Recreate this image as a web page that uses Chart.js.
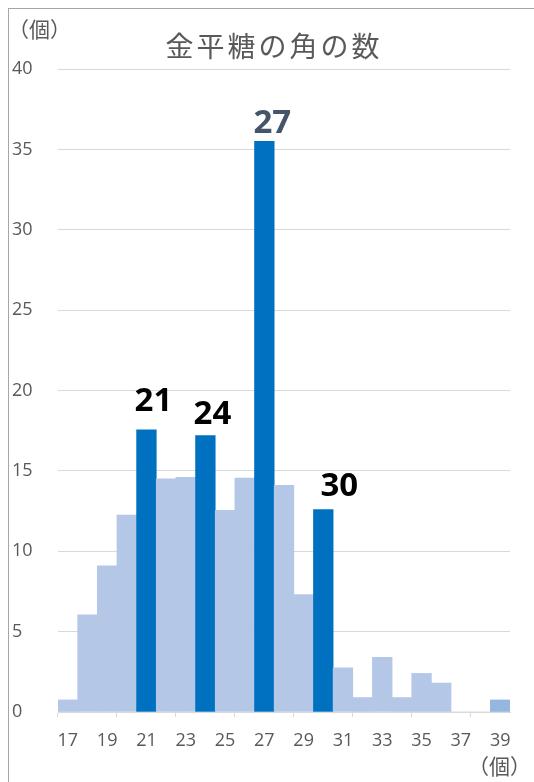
<!DOCTYPE html>
<html>
<head>
<meta charset="utf-8">
<script src="https://cdn.jsdelivr.net/npm/chart.js@4/dist/chart.umd.min.js"></script>
<style>
  body { margin: 0; background: #fff; }
  #wrap { position: relative; width: 534px; height: 782px; overflow: hidden; }
  #frame { position: absolute; left: 8px; top: 8px; right: -10px; bottom: -10px;
           border-left: 1px solid #a6a6a6; border-top: 1px solid #a6a6a6; }
  canvas { position: absolute; left: 0; top: 0; }
</style>
</head>
<body>
<div id="wrap">
  <div id="frame"></div>
  <canvas id="chart" width="534" height="782"></canvas>
</div>
<script>
// Data
const categories = ['17', '18', '19', '20', '21', '22', '23', '24', '25', '26', '27', '28',
  '29', '30', '31', '32', '33', '34', '35', '36', '37', '38', '39'];
const counts = [0.75, 6.05, 9.1, 12.25, 17.55, 14.5, 14.6, 17.2, 12.55, 14.55, 35.5, 14.1,
  7.3, 12.6, 2.75, 0.9, 3.4, 0.9, 2.4, 1.8, 0, 0, 0.75];
const highlighted = ['21', '24', '27', '30'];
const titleText = '金平糖の角の数';
const unitText = '（個）';

// Styles
const lightBlue = '#b4c7e7';
const darkBlue = '#0070c0';
const lastBlue = '#95b6de';
const labelColors = ['#000000', '#000000', '#44546a', '#000000'];
const labelShift = [7, 7, 8, 16];   // px right of bar centre
const labelLift = [19, 12, 8, 13];  // px above bar top
const textGray = '#595959';
const gridGray = '#d9d9d9';

const barColors = categories.map((c, i) => {
  if (highlighted.includes(c)) return darkBlue;
  if (i === categories.length - 1) return lastBlue;
  return lightBlue;
});

const textPlugin = {
  id: 'texts',
  afterDatasetsDraw(chart) {
    const ctx = chart.ctx;
    const area = chart.chartArea;
    const meta = chart.getDatasetMeta(0);
    ctx.save();

    // bar labels
    ctx.font = 'bold 33px "Open Sans", sans-serif';
    ctx.textAlign = 'center';
    ctx.textBaseline = 'alphabetic';
    highlighted.forEach((cat, k) => {
      const bar = meta.data[categories.indexOf(cat)];
      ctx.fillStyle = labelColors[k];
      ctx.fillText(cat, bar.x + labelShift[k], bar.y - labelLift[k]);
    });

    // title
    ctx.fillStyle = textGray;
    ctx.font = '28px "Noto Sans CJK JP", sans-serif';
    ctx.letterSpacing = '3px';
    ctx.textBaseline = 'middle';
    ctx.fillText(titleText, (area.left + area.right) / 2 - 10, area.top - 23);
    ctx.letterSpacing = '0px';

    // unit labels
    ctx.font = '21px "Noto Sans CJK JP", sans-serif';
    ctx.textAlign = 'left';
    ctx.fillText(unitText, 8, area.top - 40);
    ctx.textAlign = 'right';
    ctx.fillText(unitText, chart.width - 3, area.bottom + 54);
    ctx.restore();
  }
};

const ctx = document.getElementById('chart');
const chart = new Chart(ctx, {
  type: 'bar',
  plugins: [textPlugin],
  data: {
    labels: categories,
    datasets: [{
      data: counts,
      backgroundColor: barColors,
      barPercentage: 1.0,
      categoryPercentage: 1.0,
      borderWidth: 0
    }]
  },
  options: {
    responsive: false,
    animation: false,
    layout: {
      padding: { left: 12, right: 24, top: 69, bottom: 0 }
    },
    plugins: {
      legend: { display: false },
      tooltip: { enabled: false },
      title: { display: false }
    },
    scales: {
      x: {
        border: { display: true, color: gridGray, width: 1 },
        grid: {
          drawOnChartArea: false,
          tickLength: 5,
          color: function (context) {
            return (context.index % 3 === 0 && context.index < categories.length) ? gridGray : 'rgba(0,0,0,0)';
          }
        },
        ticks: {
          autoSkip: false,
          maxRotation: 0,
          padding: 13,
          color: textGray,
          font: { size: 18, family: '"Open Sans", sans-serif' },
          callback: function (value, index) {
            return index % 2 === 0 ? categories[index] : '';
          }
        },
        afterFit: function (scale) { scale.height = 70; }
      },
      y: {
        min: 0,
        max: 40,
        border: { display: false },
        grid: { color: gridGray, lineWidth: 1, drawTicks: false },
        ticks: {
          stepSize: 5,
          crossAlign: 'far',
          padding: 0,
          color: textGray,
          font: { size: 18, family: '"Open Sans", sans-serif' }
        },
        afterFit: function (scale) { scale.width = 46; }
      }
    }
  }
});
</script>
</body>
</html>
